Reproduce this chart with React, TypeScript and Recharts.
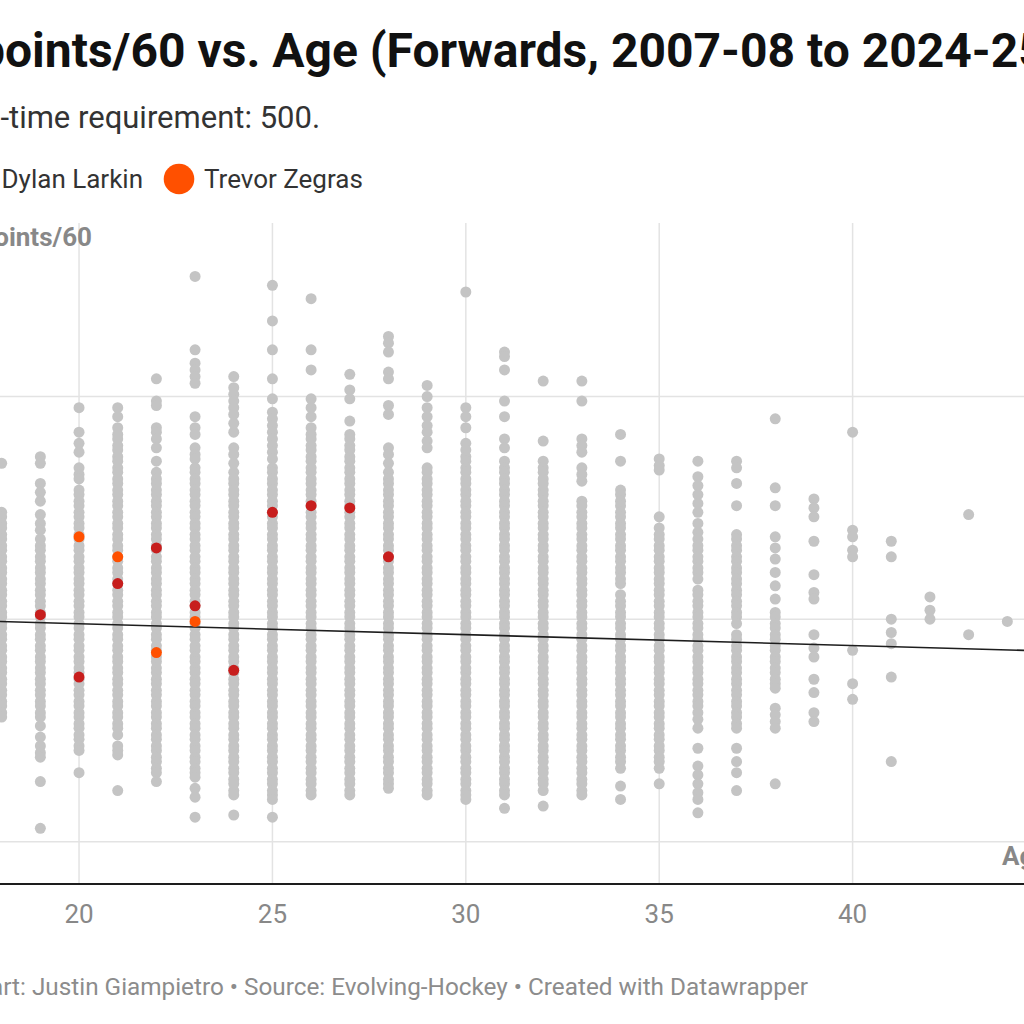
import React from "react";
import { ScatterChart, Scatter, XAxis, YAxis, CartesianGrid, ReferenceLine } from "recharts";

// axis ticks
const ageTicks = [20, 25, 30, 35, 40];
const valueTicks = [1, 2, 3];

// all forwards, points/60 by age (dense bands listed at dot spacing)
const age18 = [2.7, 2.48, 2.46, 2.43, 2.41, 2.38, 2.36, 2.33, 2.31, 2.28, 2.26, 2.23, 2.21, 2.18, 2.16, 2.13, 2.11, 2.08, 2.06, 2.03, 2.01, 1.98, 1.96, 1.93, 1.91, 1.88, 1.86, 1.83, 1.81, 1.78, 1.76, 1.73, 1.71, 1.68, 1.66, 1.63, 1.61, 1.58, 1.56];
const age19 = [2.73, 2.7, 2.61, 2.57, 2.53, 2.47, 2.43, 2.4, 2.36, 2.33, 2.31, 2.28, 2.26, 2.23, 2.21, 2.18, 2.16, 2.13, 2.11, 2.08, 2.06, 2.03, 2.01, 1.98, 1.96, 1.93, 1.91, 1.88, 1.86, 1.83, 1.81, 1.78, 1.76, 1.73, 1.71, 1.68, 1.66, 1.63, 1.61, 1.58, 1.56, 1.52, 1.47, 1.43, 1.4, 1.38, 1.27, 1.06];
const age20 = [2.95, 2.84, 2.79, 2.75, 2.68, 2.65, 2.63, 2.58, 2.56, 2.53, 2.51, 2.48, 2.46, 2.43, 2.41, 2.38, 2.36, 2.33, 2.31, 2.28, 2.26, 2.23, 2.21, 2.18, 2.16, 2.13, 2.11, 2.08, 2.06, 2.03, 2.01, 1.98, 1.96, 1.93, 1.91, 1.88, 1.86, 1.83, 1.81, 1.78, 1.76, 1.73, 1.71, 1.68, 1.66, 1.63, 1.61, 1.58, 1.56, 1.53, 1.51, 1.48, 1.46, 1.43, 1.41, 1.31];
const age21 = [2.95, 2.91, 2.86, 2.83, 2.81, 2.78, 2.76, 2.73, 2.71, 2.68, 2.66, 2.63, 2.61, 2.58, 2.56, 2.53, 2.51, 2.48, 2.46, 2.43, 2.41, 2.38, 2.36, 2.33, 2.31, 2.28, 2.26, 2.23, 2.21, 2.18, 2.16, 2.13, 2.11, 2.08, 2.06, 2.03, 2.01, 1.98, 1.96, 1.93, 1.91, 1.88, 1.86, 1.83, 1.81, 1.78, 1.76, 1.73, 1.71, 1.68, 1.66, 1.63, 1.61, 1.58, 1.56, 1.53, 1.51, 1.48, 1.43, 1.41, 1.39, 1.23];
const age22 = [3.08, 2.98, 2.96, 2.86, 2.84, 2.81, 2.77, 2.71, 2.66, 2.63, 2.61, 2.58, 2.56, 2.53, 2.51, 2.48, 2.46, 2.43, 2.41, 2.38, 2.36, 2.33, 2.31, 2.28, 2.26, 2.23, 2.21, 2.18, 2.16, 2.13, 2.11, 2.08, 2.06, 2.03, 2.01, 1.98, 1.96, 1.93, 1.91, 1.88, 1.86, 1.83, 1.81, 1.78, 1.76, 1.73, 1.71, 1.68, 1.66, 1.63, 1.61, 1.58, 1.56, 1.53, 1.51, 1.48, 1.46, 1.43, 1.41, 1.38, 1.36, 1.33, 1.31, 1.27];
const age23 = [3.54, 3.21, 3.15, 3.12, 3.09, 3.06, 2.91, 2.86, 2.83, 2.77, 2.74, 2.72, 2.68, 2.66, 2.63, 2.61, 2.58, 2.56, 2.53, 2.51, 2.48, 2.46, 2.43, 2.41, 2.38, 2.36, 2.33, 2.31, 2.28, 2.26, 2.23, 2.21, 2.18, 2.16, 2.13, 2.11, 2.08, 2.06, 2.03, 2.01, 1.98, 1.96, 1.93, 1.91, 1.88, 1.86, 1.83, 1.81, 1.78, 1.76, 1.73, 1.71, 1.68, 1.66, 1.63, 1.61, 1.58, 1.56, 1.53, 1.51, 1.48, 1.46, 1.43, 1.41, 1.38, 1.36, 1.33, 1.31, 1.29, 1.24, 1.2, 1.11];
const age24 = [3.09, 3.04, 3.01, 2.98, 2.95, 2.92, 2.88, 2.84, 2.77, 2.74, 2.7, 2.66, 2.63, 2.61, 2.58, 2.56, 2.53, 2.51, 2.48, 2.46, 2.43, 2.41, 2.38, 2.36, 2.33, 2.31, 2.28, 2.26, 2.23, 2.21, 2.18, 2.16, 2.13, 2.11, 2.08, 2.06, 2.03, 2.01, 1.98, 1.96, 1.93, 1.91, 1.88, 1.86, 1.83, 1.81, 1.78, 1.76, 1.73, 1.71, 1.68, 1.66, 1.63, 1.61, 1.58, 1.56, 1.53, 1.51, 1.48, 1.46, 1.43, 1.41, 1.38, 1.36, 1.33, 1.31, 1.28, 1.26, 1.23, 1.21, 1.12];
const age25 = [3.5, 3.34, 3.21, 3.08, 2.99, 2.93, 2.9, 2.87, 2.84, 2.81, 2.78, 2.75, 2.72, 2.68, 2.66, 2.63, 2.61, 2.58, 2.56, 2.53, 2.51, 2.48, 2.46, 2.43, 2.41, 2.38, 2.36, 2.33, 2.31, 2.28, 2.26, 2.23, 2.21, 2.18, 2.16, 2.13, 2.11, 2.08, 2.06, 2.03, 2.01, 1.98, 1.96, 1.93, 1.91, 1.88, 1.86, 1.83, 1.81, 1.78, 1.76, 1.73, 1.71, 1.68, 1.66, 1.63, 1.61, 1.58, 1.56, 1.53, 1.51, 1.48, 1.46, 1.43, 1.41, 1.38, 1.36, 1.33, 1.31, 1.28, 1.26, 1.23, 1.21, 1.19, 1.11];
const age26 = [3.44, 3.21, 3.12, 2.99, 2.95, 2.91, 2.86, 2.83, 2.81, 2.78, 2.76, 2.73, 2.71, 2.68, 2.66, 2.63, 2.61, 2.58, 2.56, 2.53, 2.51, 2.48, 2.46, 2.43, 2.41, 2.38, 2.36, 2.33, 2.31, 2.28, 2.26, 2.23, 2.21, 2.18, 2.16, 2.13, 2.11, 2.08, 2.06, 2.03, 2.01, 1.98, 1.96, 1.93, 1.91, 1.88, 1.86, 1.83, 1.81, 1.78, 1.76, 1.73, 1.71, 1.68, 1.66, 1.63, 1.61, 1.58, 1.56, 1.53, 1.51, 1.48, 1.46, 1.43, 1.41, 1.38, 1.36, 1.33, 1.31, 1.28, 1.26, 1.23, 1.21];
const age27 = [3.1, 3.03, 2.99, 2.89, 2.83, 2.81, 2.78, 2.76, 2.73, 2.71, 2.68, 2.66, 2.63, 2.61, 2.58, 2.56, 2.53, 2.51, 2.48, 2.46, 2.43, 2.41, 2.38, 2.36, 2.33, 2.31, 2.28, 2.26, 2.23, 2.21, 2.18, 2.16, 2.13, 2.11, 2.08, 2.06, 2.03, 2.01, 1.98, 1.96, 1.93, 1.91, 1.88, 1.86, 1.83, 1.81, 1.78, 1.76, 1.73, 1.71, 1.68, 1.66, 1.63, 1.61, 1.58, 1.56, 1.53, 1.51, 1.48, 1.46, 1.43, 1.41, 1.38, 1.36, 1.33, 1.31, 1.28, 1.26, 1.23, 1.21];
const age28 = [3.27, 3.24, 3.2, 3.11, 3.08, 2.96, 2.92, 2.77, 2.74, 2.7, 2.66, 2.63, 2.61, 2.58, 2.56, 2.53, 2.51, 2.48, 2.46, 2.43, 2.41, 2.38, 2.36, 2.33, 2.31, 2.28, 2.26, 2.23, 2.21, 2.18, 2.16, 2.13, 2.11, 2.08, 2.06, 2.03, 2.01, 1.98, 1.96, 1.93, 1.91, 1.88, 1.86, 1.83, 1.81, 1.78, 1.76, 1.73, 1.71, 1.68, 1.66, 1.63, 1.61, 1.58, 1.56, 1.53, 1.51, 1.48, 1.46, 1.43, 1.41, 1.38, 1.36, 1.33, 1.31, 1.28, 1.26, 1.24];
const age29 = [3.05, 3.0, 2.95, 2.91, 2.87, 2.84, 2.8, 2.77, 2.68, 2.66, 2.63, 2.61, 2.58, 2.56, 2.53, 2.51, 2.48, 2.46, 2.43, 2.41, 2.38, 2.36, 2.33, 2.31, 2.28, 2.26, 2.23, 2.21, 2.18, 2.16, 2.13, 2.11, 2.08, 2.06, 2.03, 2.01, 1.98, 1.96, 1.93, 1.91, 1.88, 1.86, 1.83, 1.81, 1.78, 1.76, 1.73, 1.71, 1.68, 1.66, 1.63, 1.61, 1.58, 1.56, 1.53, 1.51, 1.48, 1.46, 1.43, 1.41, 1.38, 1.36, 1.33, 1.31, 1.28, 1.26, 1.23, 1.21];
const age30 = [3.47, 2.95, 2.91, 2.86, 2.79, 2.76, 2.73, 2.71, 2.68, 2.66, 2.63, 2.61, 2.58, 2.56, 2.53, 2.51, 2.48, 2.46, 2.43, 2.41, 2.38, 2.36, 2.33, 2.31, 2.28, 2.26, 2.23, 2.21, 2.18, 2.16, 2.13, 2.11, 2.08, 2.06, 2.03, 2.01, 1.98, 1.96, 1.93, 1.91, 1.88, 1.86, 1.83, 1.81, 1.78, 1.76, 1.73, 1.71, 1.68, 1.66, 1.63, 1.61, 1.58, 1.56, 1.53, 1.51, 1.48, 1.46, 1.43, 1.41, 1.38, 1.36, 1.33, 1.31, 1.28, 1.26, 1.23, 1.21, 1.19];
const age31 = [3.2, 3.18, 3.12, 2.98, 2.91, 2.81, 2.77, 2.71, 2.68, 2.66, 2.63, 2.61, 2.58, 2.56, 2.53, 2.51, 2.48, 2.46, 2.43, 2.41, 2.38, 2.36, 2.33, 2.31, 2.28, 2.26, 2.23, 2.21, 2.18, 2.16, 2.13, 2.11, 2.08, 2.06, 2.03, 2.01, 1.98, 1.96, 1.93, 1.91, 1.88, 1.86, 1.83, 1.81, 1.78, 1.76, 1.73, 1.71, 1.68, 1.66, 1.63, 1.61, 1.58, 1.56, 1.53, 1.51, 1.48, 1.46, 1.43, 1.41, 1.38, 1.36, 1.33, 1.31, 1.28, 1.26, 1.23, 1.21, 1.15];
const age32 = [3.07, 2.8, 2.71, 2.68, 2.66, 2.63, 2.61, 2.58, 2.56, 2.53, 2.51, 2.48, 2.46, 2.43, 2.41, 2.38, 2.36, 2.33, 2.31, 2.28, 2.26, 2.23, 2.21, 2.18, 2.16, 2.13, 2.11, 2.08, 2.06, 2.03, 2.01, 1.98, 1.96, 1.93, 1.91, 1.88, 1.86, 1.83, 1.81, 1.78, 1.76, 1.73, 1.71, 1.68, 1.66, 1.63, 1.61, 1.58, 1.56, 1.53, 1.51, 1.48, 1.46, 1.43, 1.41, 1.38, 1.36, 1.33, 1.31, 1.28, 1.26, 1.23, 1.16];
const age33 = [3.07, 2.98, 2.81, 2.78, 2.75, 2.68, 2.65, 2.62, 2.53, 2.51, 2.48, 2.46, 2.43, 2.41, 2.38, 2.36, 2.33, 2.31, 2.28, 2.26, 2.23, 2.21, 2.18, 2.16, 2.13, 2.11, 2.08, 2.06, 2.03, 2.01, 1.98, 1.96, 1.93, 1.91, 1.88, 1.86, 1.83, 1.81, 1.78, 1.76, 1.73, 1.71, 1.68, 1.66, 1.63, 1.61, 1.58, 1.56, 1.53, 1.51, 1.48, 1.46, 1.43, 1.41, 1.38, 1.36, 1.33, 1.31, 1.28, 1.26, 1.23, 1.21];
const age34 = [2.83, 2.71, 2.58, 2.56, 2.53, 2.51, 2.48, 2.46, 2.43, 2.41, 2.38, 2.36, 2.33, 2.31, 2.28, 2.26, 2.23, 2.21, 2.18, 2.16, 2.11, 2.08, 2.06, 2.03, 2.01, 1.98, 1.96, 1.93, 1.91, 1.88, 1.86, 1.83, 1.81, 1.78, 1.76, 1.73, 1.71, 1.68, 1.66, 1.63, 1.61, 1.58, 1.56, 1.53, 1.51, 1.48, 1.46, 1.43, 1.41, 1.38, 1.36, 1.33, 1.25, 1.19];
const age35 = [2.72, 2.69, 2.67, 2.46, 2.41, 2.38, 2.36, 2.33, 2.31, 2.28, 2.26, 2.23, 2.21, 2.18, 2.16, 2.13, 2.11, 2.08, 2.06, 2.03, 2.01, 1.98, 1.96, 1.93, 1.91, 1.88, 1.86, 1.83, 1.81, 1.78, 1.76, 1.73, 1.71, 1.68, 1.66, 1.63, 1.61, 1.58, 1.56, 1.53, 1.51, 1.48, 1.46, 1.43, 1.41, 1.38, 1.36, 1.33, 1.26];
const age36 = [2.71, 2.64, 2.6, 2.56, 2.52, 2.48, 2.43, 2.39, 2.36, 2.33, 2.31, 2.28, 2.26, 2.23, 2.21, 2.18, 2.13, 2.11, 2.08, 2.06, 2.03, 2.01, 1.98, 1.96, 1.93, 1.91, 1.88, 1.86, 1.83, 1.81, 1.78, 1.76, 1.73, 1.71, 1.68, 1.66, 1.63, 1.61, 1.58, 1.55, 1.51, 1.42, 1.34, 1.3, 1.26, 1.22, 1.19, 1.13];
const age37 = [2.71, 2.68, 2.61, 2.51, 2.38, 2.36, 2.33, 2.31, 2.28, 2.26, 2.23, 2.21, 2.18, 2.16, 2.13, 2.11, 2.08, 2.06, 2.03, 2.01, 1.98, 1.93, 1.91, 1.88, 1.86, 1.83, 1.81, 1.78, 1.76, 1.73, 1.71, 1.68, 1.66, 1.63, 1.61, 1.58, 1.56, 1.53, 1.51, 1.42, 1.36, 1.31, 1.23];
const age38 = [2.9, 2.59, 2.51, 2.37, 2.32, 2.27, 2.21, 2.15, 2.09, 2.03, 2.01, 1.98, 1.96, 1.93, 1.91, 1.88, 1.86, 1.83, 1.81, 1.78, 1.76, 1.73, 1.71, 1.69, 1.6, 1.57, 1.54, 1.51, 1.26];
const age39 = [2.54, 2.5, 2.46, 2.35, 2.2, 2.12, 2.09, 1.93, 1.87, 1.83, 1.73, 1.67, 1.58, 1.54];
const age40 = [2.84, 2.4, 2.37, 2.31, 2.28, 1.86, 1.71, 1.64];
const age41 = [2.35, 2.28, 2.0, 1.94, 1.89, 1.74, 1.36];
const age42 = [2.1, 2.04, 2.0];
const age43 = [2.47, 1.93];
const age44 = [1.99];

const columns: [number, number[]][] = [
  [18, age18], [19, age19], [20, age20], [21, age21], [22, age22], [23, age23],
  [24, age24], [25, age25], [26, age26], [27, age27], [28, age28], [29, age29],
  [30, age30], [31, age31], [32, age32], [33, age33], [34, age34], [35, age35],
  [36, age36], [37, age37], [38, age38], [39, age39], [40, age40], [41, age41],
  [42, age42], [43, age43], [44, age44],
];

// highlighted players
const larkinAges = [19, 20, 21, 22, 23, 24, 25, 26, 27, 28];
const larkinValues = [2.02, 1.74, 2.16, 2.32, 2.06, 1.77, 2.48, 2.51, 2.5, 2.28];
const zegrasAges = [20, 21, 22, 23];
const zegrasValues = [2.37, 2.28, 1.85, 1.99];

// trend line ends
const trendAges = [17, 45];
const trendValues = [1.994, 1.857];

const grayData = columns.flatMap(([age, vals]) => vals.map((v) => ({ age, v })));
const larkinData = larkinAges.map((age, i) => ({ age, v: larkinValues[i] }));
const zegrasData = zegrasAges.map((age, i) => ({ age, v: zegrasValues[i] }));
const trendData = trendAges.map((age, i) => ({ age, v: trendValues[i] }));

const FONT = "Roboto, 'Noto Sans', sans-serif";

const dot = (fill: string) => (props: any) =>
  <circle cx={props.cx} cy={props.cy} r={5.5} fill={fill} />;

export default function App() {
  return (
    <div
      style={{
        position: "fixed",
        left: 0,
        top: 0,
        width: 1024,
        height: 1024,
        overflow: "hidden",
        background: "#fff",
        fontFamily: FONT,
      }}
    >
      <div style={{ position: "absolute", left: -37, top: 223 }}>
        <ScatterChart
          width={1083}
          height={721}
          margin={{ top: 0, right: 0, bottom: 0, left: 0 }}
        >
          <CartesianGrid stroke="#e3e3e3" strokeWidth={1.5} horizontal={false} />
          <XAxis
            type="number"
            dataKey="age"
            domain={[17, 45]}
            ticks={ageTicks}
            height={60}
            tickSize={0}
            tickMargin={21}
            axisLine={{ stroke: "#1d1d1d", strokeWidth: 2 }}
            tickLine={false}
            tick={{ fill: "#888", fontSize: 26, fontFamily: FONT }}
          />
          <YAxis
            type="number"
            dataKey="v"
            domain={[0.81, 3.78]}
            ticks={valueTicks}
            hide
          />
          {valueTicks.map((t) => (
            <ReferenceLine key={t} y={t} stroke="#e3e3e3" strokeWidth={1.5} />
          ))}
          <Scatter data={grayData} fill="#c4c4c4" shape={dot("#c4c4c4")} isAnimationActive={false} />
          <Scatter
            data={trendData}
            line={{ stroke: "#1d1d1d", strokeWidth: 1.6 }}
            shape={() => <g />}
            isAnimationActive={false}
          />
          <Scatter data={larkinData} fill="#c71e1d" shape={dot("#c71e1d")} isAnimationActive={false} />
          <Scatter data={zegrasData} fill="#ff5000" shape={dot("#ff5000")} isAnimationActive={false} />
        </ScatterChart>
      </div>

      <svg
        width={1024}
        height={1024}
        style={{ position: "absolute", left: 0, top: 0, pointerEvents: "none" }}
        fontFamily={FONT}
      >
        {/* title */}
        <text x={5} y={67} fontSize={48} fontWeight={700} fill="#111" textAnchor="end">
          Primary p
        </text>
        <text x={5} y={67} fontSize={48} fontWeight={700} fill="#111">
          oints/60 vs. Age (Forwards, 2007-08 to 2024-25)
        </text>
        {/* subtitle */}
        <text x={9} y={128} fontSize={31} fill="#333" textAnchor="end">
          Minimum ice-
        </text>
        <text x={9} y={128} fontSize={31} fill="#333">
          time requirement: 500.
        </text>
        {/* legend */}
        <circle cx={-22} cy={179} r={15.3} fill="#c71e1d" />
        <text x={143} y={188} fontSize={26} fill="#333" textAnchor="end">
          Dylan Larkin
        </text>
        <circle cx={179} cy={179} r={15.3} fill="#ff5000" />
        <text x={204} y={188} fontSize={26} fill="#333">
          Trevor Zegras
        </text>
        {/* axis titles */}
        <text x={92} y={246} fontSize={26} fontWeight={700} fill="#888" textAnchor="end">
          Primary points/60
        </text>
        <text x={1002} y={865} fontSize={26} fontWeight={700} fill="#888">
          Age
        </text>
        {/* footer */}
        <text x={808} y={995} fontSize={24.3} fill="#8c8c8c" textAnchor="end">
          Chart: Justin Giampietro • Source: Evolving-Hockey • Created with Datawrapper
        </text>
      </svg>
    </div>
  );
}
